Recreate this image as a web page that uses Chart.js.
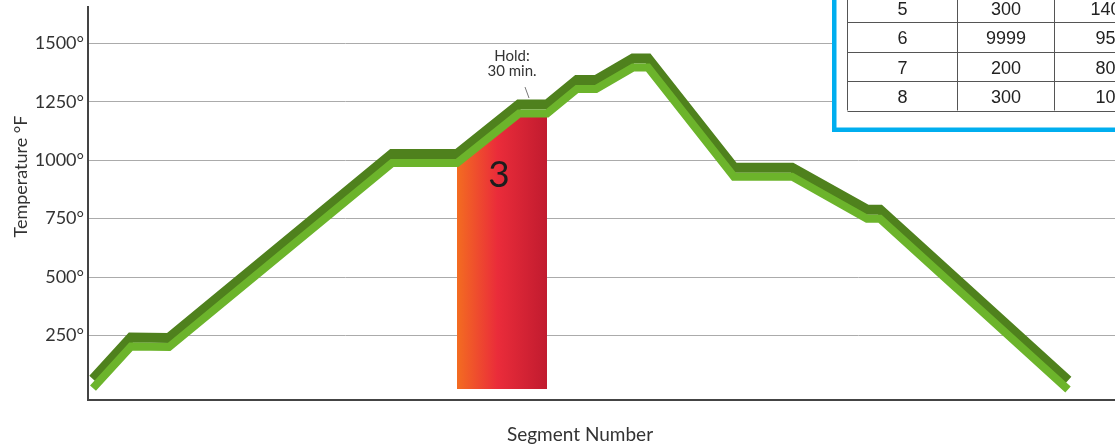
<!DOCTYPE html>
<html lang="en">
<head>
<meta charset="UTF-8">
<title>Firing Schedule</title>
<style>
    body { margin: 0; background: #fff; overflow: hidden; }
    #wrap { width: 1115px; height: 445px; }
</style>
</head>
<body>
<div id="wrap"><canvas id="chart" width="1115" height="445"></canvas></div>
<script src="https://cdn.jsdelivr.net/npm/chart.js"></script>
<script>
// firing profile (x = position along the schedule)
const segX    = [5, 43, 81, 304, 369, 431, 459, 489, 508, 545, 560, 646, 704, 779, 792, 980];
const segTemp = [25, 203, 201, 988, 988, 1200, 1200, 1305, 1305, 1397, 1397, 930, 930, 750, 750, 19];

// segment 3 (ramp + 30 min hold) is highlighted
const seg3X    = [369, 431, 459];
const seg3Temp = [988, 1200, 1200];
const seg3Base = 21;

const yTicks = [250, 500, 750, 1000, 1250, 1500];

// programme table, only rows 5-8 are in view
const tableSeg  = ['5', '6', '7', '8'];
const tableRate = ['300', '9999', '200', '300'];
const tableTemp = ['1400', '950', '800', '100'];

const LIGHT = '#6cb42b';
const DARK = '#4f811d';

const toPoints = (xs, ys) => xs.map((x, i) => ({ x: x, y: ys[i] }));

// draws the dark copy of the line shifted upwards -> ribbon look
const extrude = {
    id: 'extrude',
    beforeDatasetDraw(chart, args) {
        if (args.index === 1) {
            chart.ctx.save();
            chart.ctx.translate(0, -9);
        }
    },
    afterDatasetDraw(chart, args) {
        if (args.index === 1) chart.ctx.restore();
    }
};

const notes = {
    id: 'notes',
    afterDatasetsDraw(chart) {
        const ctx = chart.ctx;
        const xs = chart.scales.x, ys = chart.scales.y;
        ctx.save();

        // big "3" in the red block
        const x0 = xs.getPixelForValue(seg3X[0]);
        const x1 = xs.getPixelForValue(seg3X[seg3X.length - 1]);
        ctx.fillStyle = '#1d1d1d';
        ctx.font = '37px Lato';
        ctx.textAlign = 'center';
        ctx.textBaseline = 'alphabetic';
        ctx.fillText('3', (x0 + x1) / 2 - 3, ys.getPixelForValue(seg3Temp[0]) + 24);

        // hold note
        const hx = xs.getPixelForValue(seg3X[1]);
        const hy = ys.getPixelForValue(seg3Temp[1]);
        ctx.fillStyle = '#333';
        ctx.font = '15px Lato';
        ctx.fillText('Hold:', hx - 7, hy - 53);
        ctx.fillText('30 min.', hx - 7, hy - 38);
        ctx.strokeStyle = '#777';
        ctx.lineWidth = 1;
        ctx.beginPath();
        ctx.moveTo(hx + 6, hy - 26.5);
        ctx.lineTo(hx + 10, hy - 15.5);
        ctx.stroke();
        ctx.restore();
    },
    afterDraw(chart) {
        const ctx = chart.ctx;
        ctx.save();

        // axis titles
        ctx.fillStyle = '#333';
        ctx.textAlign = 'center';
        ctx.textBaseline = 'alphabetic';
        ctx.font = '19px Lato';
        ctx.fillText('Segment Number', 580, 440.5);
        ctx.translate(26.5, 176.5);
        ctx.rotate(-Math.PI / 2);
        ctx.font = '18px Lato';
        ctx.fillText('Temperature °F', 0, 0);
        ctx.restore();

        // table in its blue frame
        ctx.save();
        ctx.fillStyle = '#fff';
        ctx.fillRect(832, -10, 300, 142);
        ctx.strokeStyle = '#00aeef';
        ctx.lineWidth = 4.5;
        ctx.strokeRect(834.25, -20, 400, 149.75);

        const cols = [847.5, 957.5, 1054.5, 1172.5];
        const rowH = 29.4;
        const bottom = 110.5;
        const top = bottom - rowH * tableSeg.length;
        ctx.strokeStyle = '#555';
        ctx.lineWidth = 1;
        ctx.beginPath();
        for (let i = 0; i <= tableSeg.length; i++) {
            const y = Math.round(top + i * rowH) + 0.5;
            ctx.moveTo(cols[0], y);
            ctx.lineTo(cols[3], y);
        }
        cols.forEach(c => { ctx.moveTo(c, top); ctx.lineTo(c, bottom); });
        ctx.stroke();

        ctx.fillStyle = '#222';
        ctx.font = '18px "Liberation Sans"';
        ctx.textAlign = 'center';
        ctx.textBaseline = 'alphabetic';
        for (let i = 0; i < tableSeg.length; i++) {
            const y = top + i * rowH + 22;
            ctx.fillText(tableSeg[i], (cols[0] + cols[1]) / 2, y);
            ctx.fillText(tableRate[i], (cols[1] + cols[2]) / 2, y);
            ctx.fillText(tableTemp[i], (cols[2] + cols[3]) / 2 - 3, y);
        }
        ctx.restore();
    }
};

new Chart(document.getElementById('chart'), {
    type: 'line',
    data: {
        datasets: [
            {
                data: toPoints(segX, segTemp),
                borderColor: LIGHT,
                borderWidth: 8,
                borderJoinStyle: 'miter',
                pointRadius: 0,
                fill: false
            },
            {
                data: toPoints(segX, segTemp),
                borderColor: DARK,
                borderWidth: 10,
                borderJoinStyle: 'miter',
                pointRadius: 0,
                fill: false
            },
            {
                data: toPoints(seg3X, seg3Temp),
                borderColor: 'rgba(0,0,0,0)',
                borderWidth: 1,
                pointRadius: 0,
                fill: { value: seg3Base },
                backgroundColor: (c) => {
                    const chart = c.chart;
                    const xs = chart.scales.x;
                    if (!chart.chartArea || !xs) return '#e52b38';
                    const g = chart.ctx.createLinearGradient(
                        xs.getPixelForValue(seg3X[0]), 0,
                        xs.getPixelForValue(seg3X[seg3X.length - 1]), 0);
                    g.addColorStop(0, '#f36c21');
                    g.addColorStop(0.45, '#ea2c3a');
                    g.addColorStop(1, '#c11b2f');
                    return g;
                }
            }
        ]
    },
    options: {
        responsive: false,
        animation: false,
        layout: { padding: { top: 7, left: 0, right: 0, bottom: 0 } },
        plugins: {
            legend: { display: false },
            tooltip: { enabled: false }
        },
        scales: {
            x: {
                type: 'linear',
                min: 0,
                max: 1027,
                grid: { display: false },
                border: { color: '#444', width: 2 },
                ticks: { display: false },
                afterFit: (s) => { s.height = 45; s.paddingLeft = 0; s.paddingRight = 0; }
            },
            y: {
                min: -26,
                max: 1656,
                grid: { color: '#ababab', lineWidth: 1, drawTicks: false },
                border: { color: '#444', width: 2 },
                ticks: {
                    color: '#333',
                    font: { family: 'Lato', size: 18 },
                    padding: 4,
                    callback: (v) => v + '°'
                },
                afterBuildTicks: (s) => { s.ticks = yTicks.map(v => ({ value: v })); },
                afterFit: (s) => { s.width = 88; s.paddingTop = 0; s.paddingBottom = 0; }
            }
        }
    },
    plugins: [extrude, notes]
});
</script>
</body>
</html>
